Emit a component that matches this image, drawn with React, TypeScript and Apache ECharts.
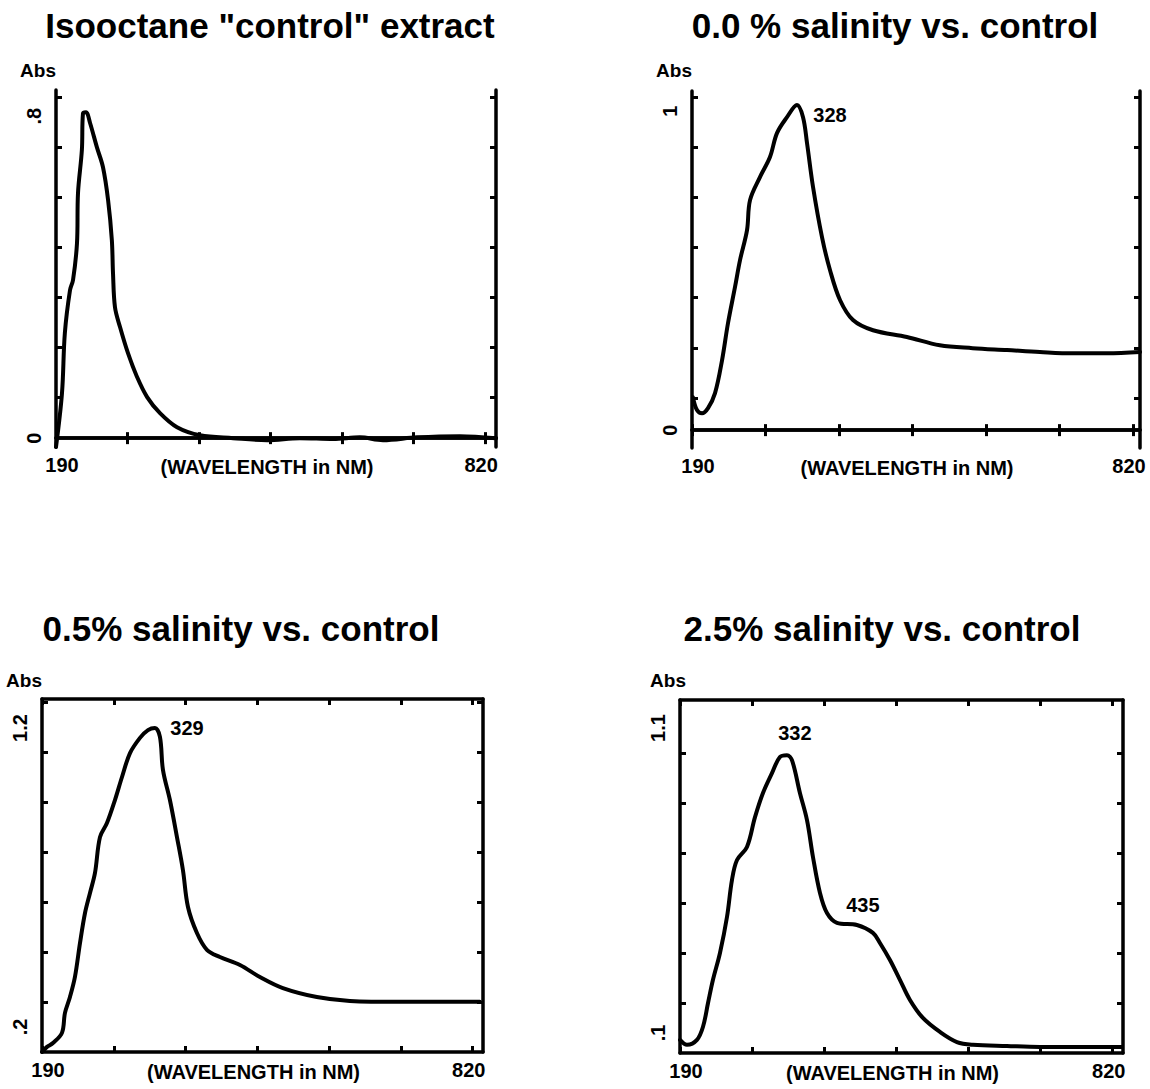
import React, { useEffect, useRef } from "react";
import * as echarts from "echarts";

const titles = [
  'Isooctane "control" extract',
  "0.0 % salinity vs. control",
  "0.5% salinity vs. control",
  "2.5% salinity vs. control",
];
const xName = "(WAVELENGTH in NM)";
const yName = "Abs";
const xTicks = [190, 295, 400, 505, 610, 715, 820];
const xTickLabels = [190, 820];
const xMaxs = [836, 830, 835, 835];

const yMins = [-0.022, -0.056, 0.116, 0.034];
const yMaxs = [0.865, 1.063, 1.297, 1.192];
const yTickSteps = [0.124, 0.157, 0.167, 0.164];
const yLabelValues = [[0, 0.8], [0, 1], [0.2, 1.2], [0.1, 1.1]];
const yLabelTexts = [["0", ".8"], ["0", "1"], [".2", "1.2"], [".1", "1.1"]];

// Panel 1: Isooctane control
const p1Nm = [190, 198.8, 203, 210.6, 215, 220.8, 222.3, 228, 229.6, 234, 240, 250, 259, 266.5, 272, 273.7, 276.6, 284, 295.7, 309, 323.8, 342.7, 367.7, 401.5, 450, 500, 548, 597, 636, 670, 720, 783, 836];
const p1Abs = [-0.022, 0.112, 0.261, 0.368, 0.393, 0.484, 0.609, 0.716, 0.807, 0.81, 0.783, 0.723, 0.673, 0.591, 0.492, 0.41, 0.325, 0.276, 0.211, 0.152, 0.102, 0.062, 0.027, 0.007, 0, -0.005, 0, -0.002, 0.002, -0.005, 0.002, 0.005, 0];

// Panel 2: 0.0 % salinity
const p2Nm = [191.4, 197.1, 204.3, 212.9, 222.9, 232.9, 241.4, 251.4, 258.6, 268.6, 272.9, 287.1, 301.4, 311.4, 325.7, 340, 348.6, 354.3, 362.9, 375.7, 387.1, 401.4, 420, 448.6, 497, 544, 591, 640, 687, 734, 783, 830];
const p2Abs = [0.103, 0.063, 0.053, 0.069, 0.116, 0.219, 0.335, 0.448, 0.533, 0.627, 0.721, 0.793, 0.856, 0.931, 0.981, 1.019, 0.981, 0.9, 0.762, 0.605, 0.502, 0.408, 0.345, 0.313, 0.292, 0.266, 0.257, 0.251, 0.245, 0.241, 0.241, 0.245];

// Panel 3: 0.5 % salinity
const p3Nm = [190, 197.3, 206, 219.2, 223.6, 230.9, 238.2, 245.6, 252.9, 260.2, 267.5, 274.8, 285, 296.7, 307, 318.7, 333.3, 345, 355.2, 362.5, 366.9, 377.1, 387.4, 396.1, 403.5, 416.6, 431.2, 450.2, 479.5, 508.7, 542.3, 592, 640.3, 713.4, 761.6, 830.3];
const p3Abs = [0.116, 0.133, 0.146, 0.18, 0.247, 0.3, 0.367, 0.481, 0.581, 0.648, 0.715, 0.835, 0.882, 0.959, 1.036, 1.116, 1.167, 1.193, 1.2, 1.17, 1.06, 0.959, 0.835, 0.725, 0.601, 0.514, 0.458, 0.434, 0.407, 0.367, 0.33, 0.3, 0.287, 0.284, 0.284, 0.284];

// Panel 4: 2.5 % salinity
const p4Nm = [190, 200.2, 214.7, 223.5, 230.8, 238, 248.2, 258.4, 265.7, 273, 287.5, 299.2, 310.8, 323.9, 335.5, 345.7, 353, 364.6, 374.9, 383.6, 393.8, 404, 418.5, 447.6, 470.9, 481.1, 495.7, 510.2, 524.8, 543.7, 568.5, 593.2, 616.5, 666, 714, 762, 833];
const p4Abs = [0.077, 0.061, 0.077, 0.12, 0.198, 0.274, 0.362, 0.48, 0.602, 0.667, 0.71, 0.808, 0.887, 0.952, 1.005, 1.011, 0.995, 0.887, 0.798, 0.677, 0.559, 0.493, 0.461, 0.454, 0.428, 0.395, 0.339, 0.274, 0.208, 0.149, 0.103, 0.07, 0.061, 0.057, 0.054, 0.054, 0.054];

const peakTexts = [[], ["328"], ["329"], ["332", "435"]];
const peakNm = [[], [340], [355.2], [345.7, 447.6]];
const peakAbs = [[], [1.019], [1.2], [1.011, 0.454]];

const seriesNm = [p1Nm, p2Nm, p3Nm, p4Nm];
const seriesAbs = [p1Abs, p2Abs, p3Abs, p4Abs];

// layout (pixels)
const grids = [
  { left: 56, top: 90, width: 440, height: 357 },
  { left: 692, top: 91, width: 448, height: 357 },
  { left: 42, top: 699, width: 441, height: 353 },
  { left: 680, top: 700, width: 443, height: 353 },
];
const titlePos = [[270, 25], [895, 25], [241, 628], [882, 628]];
const absPos = [[56, 70], [692, 70], [42, 680], [686, 680]];
const peakOffsets = [[], [[33, 10]], [[32, 0]], [[8, -22], [6, -20]]];

const FONT = "Liberation Sans, Arial, sans-serif";

export default function App() {
  const ref = useRef<HTMLDivElement>(null);
  useEffect(() => {
    if (!ref.current) return;
    const chart = echarts.init(ref.current, undefined, { renderer: "svg" });
    const xAxis: any[] = [];
    const yAxis: any[] = [];
    const series: any[] = [];
    const graphic: any[] = [];
    grids.forEach((g, i) => {
      const yTicks: number[] = [];
      for (let k = 1; yMins[i] + k * yTickSteps[i] < yMaxs[i] - 0.01; k++) {
        yTicks.push(yMins[i] + k * yTickSteps[i]);
      }
      const axisLine = { show: true, lineStyle: { color: "#000", width: 3.5 } };
      const tick = (vals: number[]) => ({
        show: true,
        inside: true,
        length: 6,
        lineStyle: { color: "#000", width: 3 },
        customValues: vals,
      });
      xAxis.push({
        type: "value",
        gridIndex: i,
        position: "bottom",
        min: 190,
        max: xMaxs[i],
        axisLine,
        axisTick: tick(xTicks),
        splitLine: { show: false },
        axisLabel: {
          show: true,
          customValues: xTickLabels,
          margin: 8,
          color: "#000",
          fontSize: 20,
          fontWeight: "bold",
          fontFamily: FONT,
          formatter: (v: number) => (v === xTickLabels[0] ? "{l|" + v + "}" : "{r|" + v + "}"),
          rich: {
            l: { padding: [0, 0, 0, 12], fontSize: 20, fontWeight: "bold", fontFamily: FONT, color: "#000" },
            r: { padding: [0, 8, 0, 0], fontSize: 20, fontWeight: "bold", fontFamily: FONT, color: "#000" },
          },
        },
        name: xName,
        nameLocation: "middle",
        nameGap: 10,
        nameMoveOverlap: false,
        nameTextStyle: {
          color: "#000",
          fontSize: 20,
          fontWeight: "bold",
          fontFamily: FONT,
          padding: [0, 18, 0, 0],
        },
      });
      xAxis.push({
        type: "value",
        gridIndex: i,
        position: "top",
        min: 190,
        max: xMaxs[i],
        axisLine,
        axisTick: tick(xTicks),
        splitLine: { show: false },
        axisLabel: { show: false },
      });
      yAxis.push({
        type: "value",
        gridIndex: i,
        position: "left",
        min: yMins[i],
        max: yMaxs[i],
        axisLine,
        axisTick: tick(yTicks),
        splitLine: { show: false },
        axisLabel: {
          show: true,
          customValues: yLabelValues[i],
          rotate: 90,
          margin: 12,
          color: "#000",
          fontSize: 20,
          fontWeight: "bold",
          fontFamily: FONT,
          formatter: (v: number) => {
            const idx = yLabelValues[i].findIndex((t) => Math.abs(t - v) < 1e-6);
            return idx >= 0 ? yLabelTexts[i][idx] : "";
          },
        },
      });
      yAxis.push({
        type: "value",
        gridIndex: i,
        position: "right",
        min: yMins[i],
        max: yMaxs[i],
        axisLine,
        axisTick: tick(yTicks),
        splitLine: { show: false },
        axisLabel: { show: false },
      });
      const data = seriesNm[i].map((x, j) => [x, seriesAbs[i][j]]);
      series.push({
        type: "line",
        xAxisIndex: 2 * i,
        yAxisIndex: 2 * i,
        data,
        showSymbol: false,
        symbol: "none",
        smooth: 0.35,
        lineStyle: { color: "#000", width: 4, join: "round", cap: "round" },
        markPoint: {
          symbol: "rect",
          symbolSize: 1,
          itemStyle: { color: "rgba(0,0,0,0)" },
          data: peakTexts[i].map((t, j) => ({
            coord: [peakNm[i][j], peakAbs[i][j]],
            label: {
              show: true,
              position: "inside",
              formatter: t,
              offset: peakOffsets[i][j],
              color: "#000",
              fontSize: 20,
              fontWeight: "bold",
              fontFamily: FONT,
            },
          })),
        },
      });
      graphic.push({
        type: "text",
        x: titlePos[i][0],
        y: titlePos[i][1],
        style: {
          text: titles[i],
          fill: "#000",
          fontSize: 35,
          fontWeight: "bold",
          fontFamily: FONT,
          align: "center",
          verticalAlign: "middle",
        },
      });
      graphic.push({
        type: "text",
        x: absPos[i][0],
        y: absPos[i][1],
        style: {
          text: yName,
          fill: "#000",
          fontSize: 19,
          fontWeight: "bold",
          fontFamily: FONT,
          align: "right",
          verticalAlign: "middle",
        },
      });
    });
    chart.setOption({
      animation: false,
      backgroundColor: "#fff",
      grid: grids.map((g) => ({ ...g, containLabel: false, outerBoundsMode: "none" })),
      xAxis,
      yAxis,
      series,
      graphic,
    });
    return () => chart.dispose();
  }, []);
  return (
    <div
      ref={ref}
      style={{ position: "absolute", left: 0, top: 0, width: 1150, height: 1089, background: "#fff" }}
    />
  );
}
